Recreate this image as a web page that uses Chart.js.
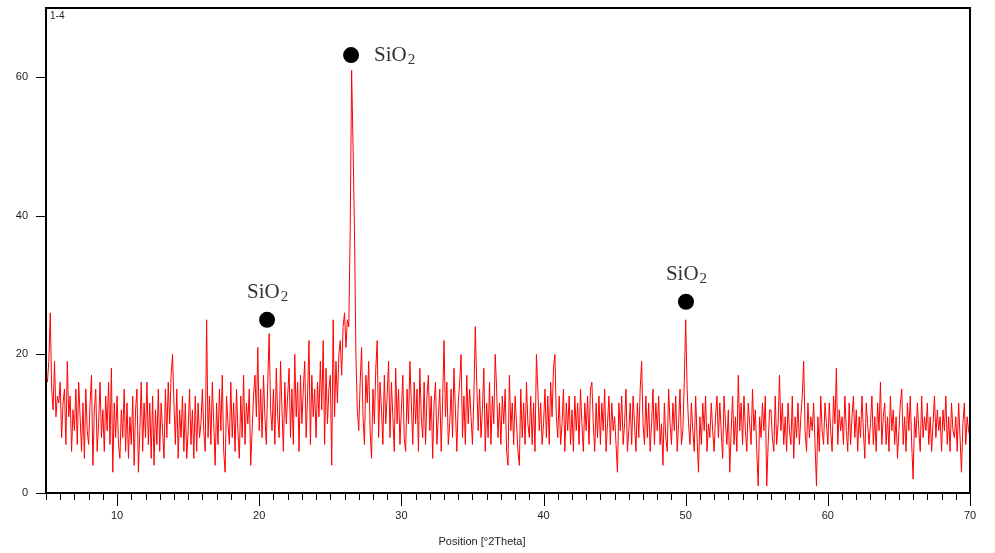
<!DOCTYPE html>
<html>
<head>
<meta charset="utf-8">
<script src="https://cdn.jsdelivr.net/npm/chart.js@4.4.1/dist/chart.umd.min.js"></script>
<style>
  html, body { margin: 0; padding: 0; background: #fff; }
  canvas { display: block; }
</style>
</head>
<body>
<canvas id="xrdChart" width="995" height="553"></canvas>
<script>
// scan grid
var angleStart = 5;
var angleStep = 0.1;

// counts, one row per degree (5.0 .. 69.9, then 70.0)
var intensity = [
  17,16,19,26,15,12,19,11,14,13,   // 5
  16,8,13,15,7,19,11,14,6,12,      // 6
  9,15,7,16,11,6,13,5,15,9,        // 7
  7,13,17,4,12,15,6,10,16,8,       // 8
  12,6,14,9,16,7,18,3,13,8,        // 9
  14,7,5,12,8,15,6,13,5,11,        // 10
  7,14,4,12,15,3,9,16,6,13,        // 11
  8,16,7,13,5,14,4,12,7,15,        // 12
  6,13,9,5,15,8,16,10,17,20,       // 13
  13,7,15,5,12,8,14,6,13,5,        // 14
  9,15,7,12,5,14,6,13,8,10,        // 15
  15,9,6,25,8,14,7,16,10,4,        // 16
  13,7,15,9,17,6,3,14,10,7,        // 17
  16,8,13,6,15,9,5,14,8,17,        // 18
  7,13,10,15,4,9,14,17,11,21,      // 19
  9,15,8,17,11,7,16,23,12,9,       // 20
  15,7,18,11,8,19,12,6,16,10,      // 21
  14,18,8,15,7,20,11,16,6,17,      // 22
  10,15,19,8,14,22,7,17,11,15,     // 23
  8,16,11,19,12,22,7,18,10,15,     // 24
  17,4,25,11,19,13,20,22,17,24,    // 25
  26,21,25,24,38,61,50,38,20,12,   // 26
  9,16,21,11,7,17,13,19,9,5,       // 27
  15,10,18,22,8,16,12,7,17,10,     // 28
  14,19,8,16,11,6,18,10,15,7,      // 29
  12,17,8,6,15,10,19,13,7,16,      // 30
  10,15,6,18,11,8,16,7,14,17,      // 31
  9,14,5,13,16,7,11,15,6,13,       // 32
  22,11,16,7,10,15,8,18,12,6,      // 33
  13,16,20,8,14,7,17,10,15,11,     // 34
  7,14,24,16,9,15,8,12,18,6,       // 35
  13,8,16,7,14,10,20,15,8,13,      // 36
  7,14,10,15,6,4,17,9,13,7,        // 37
  14,10,6,4,15,8,13,7,16,10,       // 38
  8,14,7,13,6,20,15,9,13,7,        // 39
  10,15,8,14,7,16,11,18,20,11,     // 40
  8,14,7,10,15,6,13,9,14,7,        // 41
  12,6,14,9,13,7,15,10,6,13,       // 42
  9,14,7,15,16,10,6,13,8,14,       // 43
  7,13,9,15,6,10,14,7,13,9,        // 44
  11,7,3,13,9,14,7,10,15,6,        // 45
  9,13,7,14,10,6,13,8,15,19,       // 46
  10,7,14,8,13,6,10,15,7,13,       // 47
  9,14,7,10,4,13,8,6,15,10,        // 48
  7,13,9,14,6,10,15,7,9,16,        // 49
  25,15,10,7,13,9,6,14,8,3,        // 50
  11,7,13,9,14,6,10,8,13,9,        // 51
  6,11,14,8,13,9,5,14,10,7,        // 52
  12,3,9,14,7,11,6,17,9,13,        // 53
  7,14,9,6,13,10,7,15,9,12,        // 54
  6,1,11,8,13,9,14,1,7,12,         // 55
  12,8,6,14,7,10,17,9,13,7,        // 56
  11,6,13,9,7,14,5,11,8,13,        // 57
  7,11,14,19,9,6,13,8,11,9,        // 58
  13,7,1,11,6,14,9,7,13,10,        // 59
  7,13,9,6,14,10,18,7,12,9,        // 60
  11,7,14,9,6,13,7,11,14,8,        // 61
  12,6,11,8,14,9,5,13,10,7,        // 62
  10,14,7,11,6,13,9,16,7,11,       // 63
  13,7,11,6,14,9,12,7,11,5,        // 64
  9,13,15,7,11,6,13,9,14,7,        // 65
  2,11,8,13,9,6,14,8,11,9,         // 66
  13,7,11,6,10,14,8,12,9,11,       // 67
  6,12,9,14,7,11,6,13,9,8,         // 68
  11,6,13,8,3,10,13,7,11,9,        // 69
  8                                // 70
];

// axis ticks
var xTicks = [10, 20, 30, 40, 50, 60, 70];
var yTicks = [0, 20, 40, 60];

// marked SiO2 reflections (dot position in data units)
var peakAngles = [20.55, 26.46, 50.02];
var peakMarks = [25, 63.2, 27.6];
var peakLabels = ['SiO2', 'SiO2', 'SiO2'];

var pattern = intensity.map(function(c, i) {
    return { x: +(angleStart + i * angleStep).toFixed(2), y: c };
});
var marks = peakAngles.map(function(a, i) {
    return { x: a, y: peakMarks[i] };
});

var frameAndLabels = {
    id: 'frameAndLabels',
    afterDraw: function(chart) {
        var ctx = chart.ctx;
        var area = chart.chartArea;
        var xs = chart.scales.x;
        var ys = chart.scales.y;
        ctx.save();

        // tick marks
        ctx.strokeStyle = '#000';
        ctx.lineWidth = 1;
        ctx.beginPath();
        for (var v = Math.ceil(xs.min); v <= xs.max; v++) {
            var px = Math.round(xs.getPixelForValue(v)) + 0.5;
            var len = v % 10 === 0 ? 13 : 7;
            ctx.moveTo(px, area.bottom);
            ctx.lineTo(px, area.bottom + len);
        }
        yTicks.forEach(function(t) {
            var py = Math.round(ys.getPixelForValue(t)) + 0.5;
            ctx.moveTo(area.left - 10, py);
            ctx.lineTo(area.left, py);
        });
        ctx.stroke();

        // frame
        ctx.lineWidth = 2;
        ctx.strokeRect(area.left, area.top, area.right - area.left, area.bottom - area.top);

        // sample name
        ctx.fillStyle = '#222';
        ctx.font = '10px "Liberation Sans", Arial, sans-serif';
        ctx.textBaseline = 'top';
        ctx.textAlign = 'left';
        ctx.fillText('1-4', area.left + 4, area.top + 3);

        // axis title
        ctx.font = '11px "Liberation Sans", Arial, sans-serif';
        ctx.textAlign = 'center';
        ctx.textBaseline = 'middle';
        ctx.fillText('Position [°2Theta]', 482, 542);

        // SiO2 labels
        ctx.fillStyle = '#333';
        peakAngles.forEach(function(a, i) {
            var px = xs.getPixelForValue(a);
            var py = ys.getPixelForValue(peakMarks[i]);
            var main = peakLabels[i].slice(0, -1);
            var sub = peakLabels[i].slice(-1);
            ctx.font = '21px "Liberation Serif", "DejaVu Serif", serif';
            var wMain = ctx.measureText(main).width;
            ctx.font = '15px "Liberation Serif", "DejaVu Serif", serif';
            var wSub = ctx.measureText(sub).width;
            var left, base;
            if (i === 1) {
                left = px + 23;
                base = py + 6;
            } else {
                left = px - (wMain + wSub) / 2;
                base = py - 22;
            }
            ctx.textAlign = 'left';
            ctx.textBaseline = 'alphabetic';
            ctx.font = '21px "Liberation Serif", "DejaVu Serif", serif';
            ctx.fillText(main, left, base);
            ctx.font = '15px "Liberation Serif", "DejaVu Serif", serif';
            ctx.fillText(sub, left + wMain + 1, base + 3);
        });
        ctx.restore();
    }
};

var ctx = document.getElementById('xrdChart').getContext('2d');
var chart = new Chart(ctx, {
    type: 'scatter',
    data: {
        datasets: [
            {
                type: 'line',
                data: pattern,
                borderColor: '#ff0000',
                borderWidth: 1,
                pointRadius: 0,
                tension: 0,
                fill: false
            },
            {
                data: marks,
                pointRadius: 8,
                pointHoverRadius: 8,
                backgroundColor: '#000',
                borderColor: '#000',
                borderWidth: 0
            }
        ]
    },
    options: {
        responsive: false,
        animation: false,
        events: [],
        layout: { padding: { left: 0, top: 7, right: 25, bottom: 0 } },
        plugins: {
            legend: { display: false },
            tooltip: { enabled: false }
        },
        scales: {
            x: {
                type: 'linear',
                min: 5,
                max: 70,
                afterBuildTicks: function(scale) {
                    scale.ticks = xTicks.map(function(v) { return { value: v }; });
                },
                afterFit: function(scale) {
                    scale.height = 60;
                    scale.paddingLeft = 0;
                    scale.paddingRight = 0;
                },
                grid: { display: false, drawTicks: false },
                border: { display: false },
                ticks: {
                    autoSkip: false,
                    maxRotation: 0,
                    padding: 16,
                    color: '#222',
                    font: { family: '"Liberation Sans", Arial, sans-serif', size: 11 }
                }
            },
            y: {
                type: 'linear',
                min: 0,
                max: 70,
                afterBuildTicks: function(scale) {
                    scale.ticks = yTicks.map(function(v) { return { value: v }; });
                },
                afterFit: function(scale) {
                    scale.width = 46;
                    scale.paddingTop = 0;
                    scale.paddingBottom = 0;
                },
                grid: { display: false, drawTicks: false },
                border: { display: false },
                ticks: {
                    padding: 18,
                    color: '#222',
                    font: { family: '"Liberation Sans", Arial, sans-serif', size: 11 }
                }
            }
        }
    },
    plugins: [frameAndLabels]
});
</script>
</body>
</html>
